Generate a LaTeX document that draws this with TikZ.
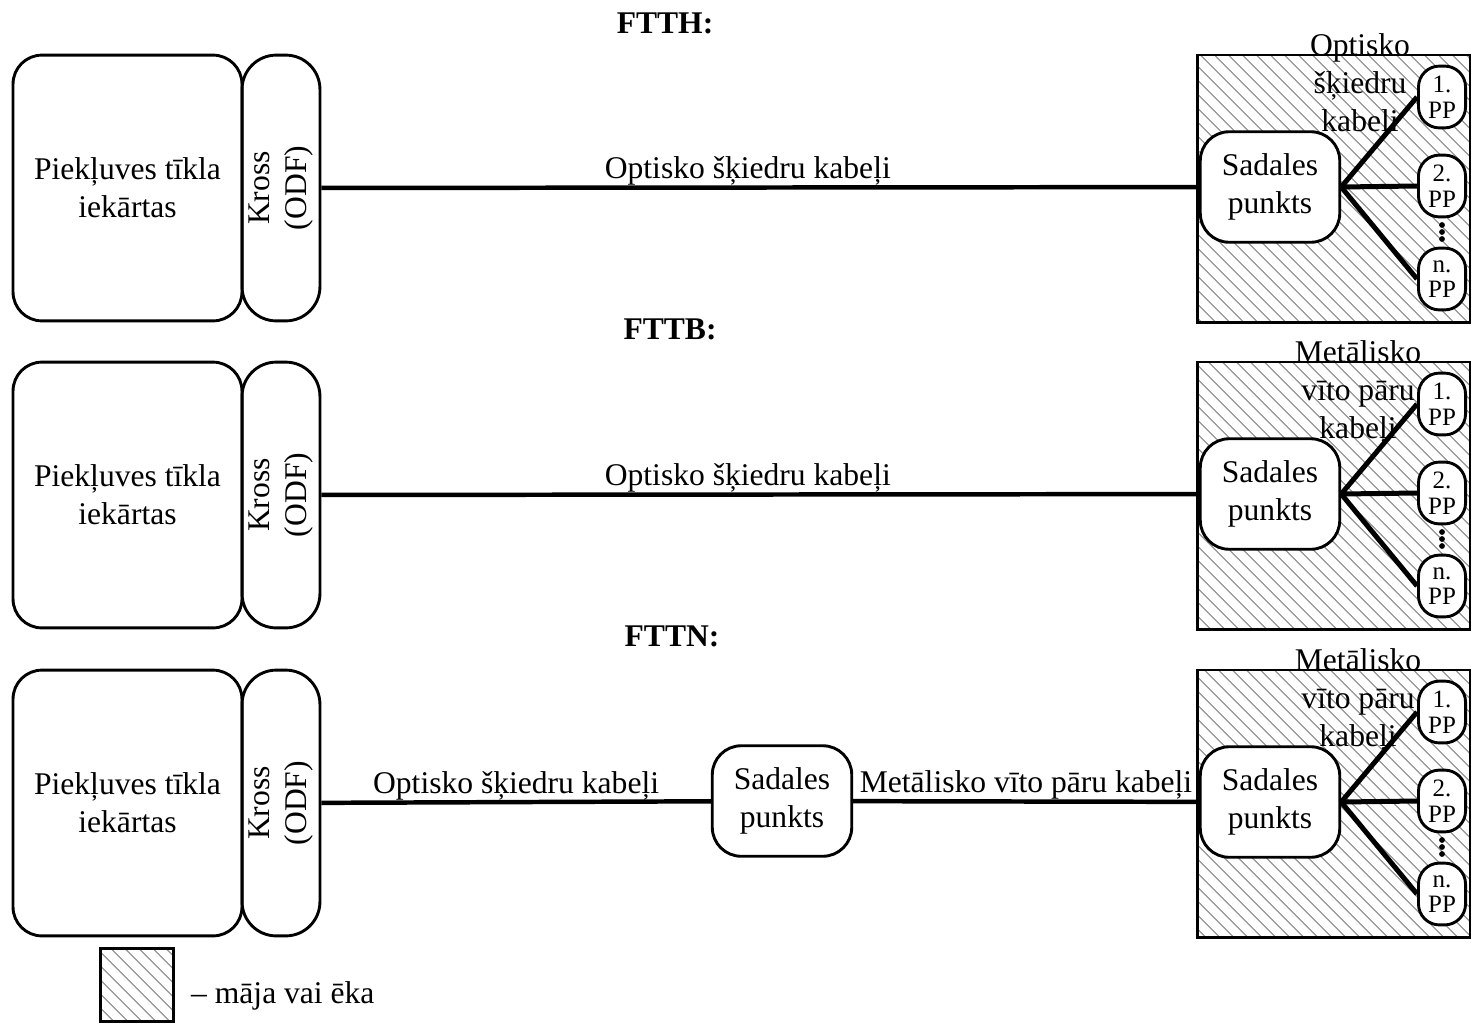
\documentclass[tikz,border=0pt]{standalone}
\usepackage{fontspec}
\setmainfont{Liberation Serif}
\usetikzlibrary{patterns.meta}

\begin{document}
\begin{tikzpicture}[x=0.38pt,y=-0.38pt,font=\fontsize{12}{14.4}\selectfont]
    \tikzstyle{equip}=[rectangle,draw,line width=1.1pt,rounded corners=11pt,minimum width=87pt,minimum height=101pt,align=center]
    \tikzstyle{kross}=[rectangle,draw,line width=1.1pt,rounded corners=13pt,rotate=90,minimum width=101pt,minimum height=29.6pt,inner sep=1pt,align=center]
    \tikzstyle{split}=[rectangle,draw,line width=1.1pt,fill=white,rounded corners=11pt,minimum width=53pt,minimum height=42pt,align=center]
    \tikzstyle{pp}=[rectangle,draw,line width=1.1pt,fill=white,rounded corners=8pt,minimum width=17.9pt,minimum height=23.5pt,inner sep=0pt,align=center,font=\fontsize{9.5}{9.8}\selectfont]
    \tikzstyle{house}=[rectangle,draw,line width=1.1pt,pattern={Lines[angle=-45,distance=4pt,line width=0.6pt]},pattern color=gray!75]
    \tikzstyle{cable}=[line width=1.7pt]
    \tikzstyle{drop}=[line width=1.9pt]
    \tikzstyle{cbltext}=[above=0pt,inner sep=0pt]
    \tikzstyle{title}=[font=\fontsize{12}{14.4}\selectfont\bfseries]

    \useasboundingbox (0,0) rectangle (1474,1025);

    % FTTH
    \begin{scope}[shift={(0,55)}]
      \node [title] (titleH) at (665,-32) {FTTH:};
      \node [house,minimum width=103.7pt,minimum height=101.5pt] (bldgH) at (1333.5,133.5) {};
      \node [equip] (equipH) at (127.5,133) {Piekļuves tīkla\\iekārtas};
      \node [kross] (odfH) at (281,133) {Kross\\(ODF)};
      \node [split] (spH) at (1270,132) {Sadales\\punkts};
      \node [pp] (pp1H) at (1442,42) {1.\\PP};
      \node [pp] (pp2H) at (1442,131) {2.\\PP};
      \node [pp] (ppnH) at (1442,224) {n.\\PP};
      \node [align=center,anchor=north,inner sep=0pt] (dropH) at (1360,-22) {Optisko\\šķiedru\\kabeļi};

      \draw [cable] (odfH) -- node [cbltext,pos=0.486] (cblH) {Optisko šķiedru kabeļi} (spH);
      \draw [drop] (spH.east) -- (pp1H.west);
      \draw [drop] (spH.east) -- (pp2H.west);
      \draw [drop] (spH.east) -- (ppnH.west);
      \fill (1442,170) circle (1.1pt) (1442,177) circle (1.1pt) (1442,184) circle (1.1pt);
    \end{scope}

    % FTTB
    \begin{scope}[shift={(0,362)}]
      \node [title] (titleB) at (670,-33) {FTTB:};
      \node [house,minimum width=103.7pt,minimum height=101.5pt] (bldgB) at (1333.5,133.5) {};
      \node [equip] (equipB) at (127.5,133) {Piekļuves tīkla\\iekārtas};
      \node [kross] (odfB) at (281,133) {Kross\\(ODF)};
      \node [split] (spB) at (1270,132) {Sadales\\punkts};
      \node [pp] (pp1B) at (1442,42) {1.\\PP};
      \node [pp] (pp2B) at (1442,131) {2.\\PP};
      \node [pp] (ppnB) at (1442,224) {n.\\PP};
      \node [align=center,anchor=north,inner sep=0pt] (dropB) at (1358,-22) {Metālisko\\vīto pāru\\kabeļi};

      \draw [cable] (odfB) -- node [cbltext,pos=0.486] (cblB) {Optisko šķiedru kabeļi} (spB);
      \draw [drop] (spB.east) -- (pp1B.west);
      \draw [drop] (spB.east) -- (pp2B.west);
      \draw [drop] (spB.east) -- (ppnB.west);
      \fill (1442,170) circle (1.1pt) (1442,177) circle (1.1pt) (1442,184) circle (1.1pt);
    \end{scope}

    % FTTN
    \begin{scope}[shift={(0,670)}]
      \node [title] (titleN) at (672,-34) {FTTN:};
      \node [house,minimum width=103.7pt,minimum height=101.5pt] (bldgN) at (1333.5,133.5) {};
      \node [equip] (equipN) at (127.5,133) {Piekļuves tīkla\\iekārtas};
      \node [kross] (odfN) at (281,133) {Kross\\(ODF)};
      \node [split] (cabN) at (782,131) {Sadales\\punkts};
      \node [split] (spN) at (1270,132) {Sadales\\punkts};
      \node [pp] (pp1N) at (1442,42) {1.\\PP};
      \node [pp] (pp2N) at (1442,131) {2.\\PP};
      \node [pp] (ppnN) at (1442,224) {n.\\PP};
      \node [align=center,anchor=north,inner sep=0pt] (dropN) at (1358,-22) {Metālisko\\vīto pāru\\kabeļi};

      \draw [cable] (odfN) -- node [cbltext] (cblN) {Optisko šķiedru kabeļi} (cabN);
      \draw [cable] (cabN) -- node [cbltext] (cuN) {Metālisko vīto pāru kabeļi} (spN);
      \draw [drop] (spN.east) -- (pp1N.west);
      \draw [drop] (spN.east) -- (pp2N.west);
      \draw [drop] (spN.east) -- (ppnN.west);
      \fill (1442,170) circle (1.1pt) (1442,177) circle (1.1pt) (1442,184) circle (1.1pt);
    \end{scope}

    % legend
    \node [house,minimum width=27.7pt,minimum height=27.7pt] (legend) at (137,985) {};
    \node [anchor=west,inner sep=0pt,yshift=-4pt] (legendtxt) at ([xshift=6pt]legend.east) {– māja vai ēka};

  \end{tikzpicture}
\end{document}
